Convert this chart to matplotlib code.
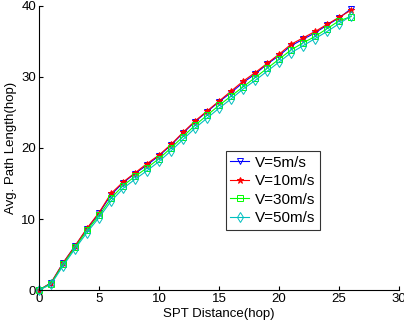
import numpy as np
import matplotlib
matplotlib.use('Agg')
import matplotlib.pyplot as plt

plt.rcParams['font.family'] = ['Liberation Sans', 'DejaVu Sans']

hops = np.arange(0, 27)
v5 = [0, 1.0, 3.8, 6.2, 8.6, 10.8, 13.4, 15.1, 16.4, 17.6, 18.9, 20.4, 22.1, 23.7,
      25.1, 26.5, 27.8, 29.2, 30.4, 31.8, 33.0, 34.4, 35.3, 36.2, 37.3, 38.3, 39.6]
v10 = [0, 1.0, 3.8, 6.2, 8.7, 10.9, 13.6, 15.2, 16.5, 17.8, 19.0, 20.5, 22.2, 23.8,
       25.2, 26.6, 28.0, 29.4, 30.6, 31.9, 33.2, 34.6, 35.5, 36.4, 37.4, 38.4, 39.4]
v30 = [0, 0.9, 3.6, 6.0, 8.4, 10.5, 12.9, 14.7, 16.0, 17.2, 18.5, 20.0, 21.6, 23.2,
       24.6, 26.0, 27.3, 28.6, 29.9, 31.2, 32.5, 33.8, 34.8, 35.7, 36.8, 37.9, 38.5]
v50 = [0, 0.8, 3.4, 5.8, 8.1, 10.2, 12.5, 14.3, 15.6, 16.8, 18.1, 19.6, 21.2, 22.8,
       24.2, 25.6, 26.9, 28.3, 29.5, 30.8, 32.1, 33.4, 34.4, 35.4, 36.4, 37.5, 38.6]
labels = ['V=5m/s', 'V=10m/s', 'V=30m/s', 'V=50m/s']

fig = plt.figure(figsize=(4.04, 3.27), dpi=100)
ax = fig.add_axes([0.0965, 0.113, 0.8915, 0.869])

kw = dict(lw=0.8, mew=0.7, clip_on=False)
ax.plot(hops, v5, color='b', marker='v', mfc='none', ms=5, label=labels[0], **kw)
ax.plot(hops, v10, color='r', marker='*', ms=5, label=labels[1], **kw)
ax.plot(hops, v30, color='#00ff00', marker='s', mfc='none', ms=4, label=labels[2], **kw)
ax.plot(hops, v50, color='c', marker='d', mfc='none', ms=5, label=labels[3], **kw)

ax.set_xlim(0, 30)
ax.set_ylim(0, 40)
ax.set_xticks([0, 5, 10, 15, 20, 25, 30])
ax.set_yticks([0, 10, 20, 30, 40])
ax.spines['top'].set_visible(False)
ax.spines['right'].set_visible(False)
ax.tick_params(direction='in', labelsize=9.5, length=3, pad=2)
ax.set_xlabel('SPT Distance(hop)', fontsize=9.5, labelpad=2)
ax.set_ylabel('Avg. Path Length(hop)', fontsize=9.5, labelpad=3)

leg = ax.legend(loc='upper left', bbox_to_anchor=(0.559, 0.538),
                bbox_transform=fig.transFigure, fontsize=11, fancybox=False,
                edgecolor='k', borderaxespad=0, handlelength=1.2,
                handletextpad=0.4, labelspacing=0.3, borderpad=0.3)
leg.get_frame().set_linewidth(0.8)

fig.savefig('out.png', dpi=100)
